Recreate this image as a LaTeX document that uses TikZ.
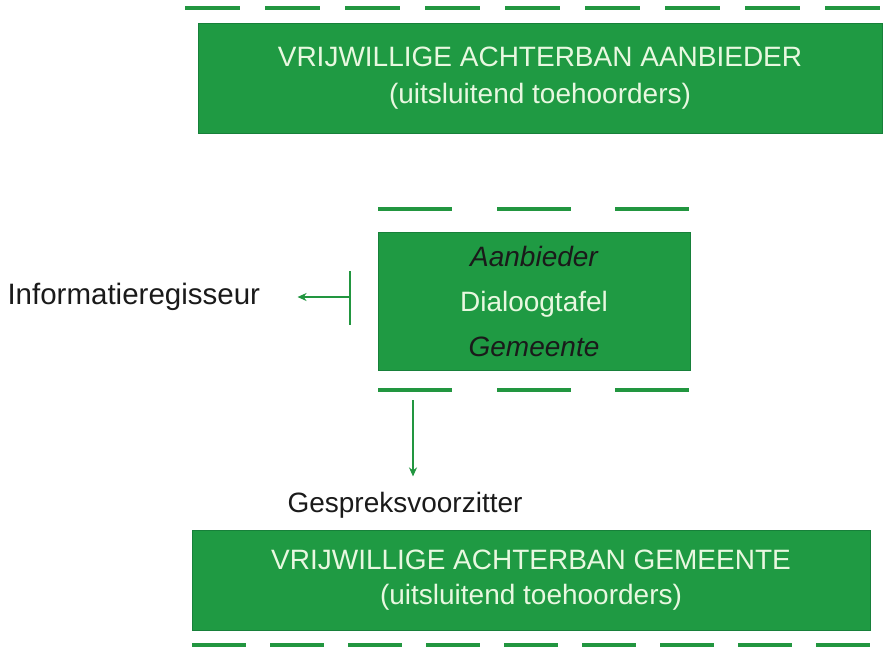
\documentclass[tikz,border=0pt]{standalone}
\usepackage{fontspec}
\setmainfont{Liberation Sans}
\usepackage{xcolor}
\usepackage{tikz}
\usetikzlibrary{
  arrows.meta,
  positioning,
  calc
}
\definecolor{boxgreen}{HTML}{1F9A43}
\definecolor{boxedge}{HTML}{17803A}
\definecolor{dashgreen}{HTML}{229640}
\definecolor{boxtext}{HTML}{E8F8E0}
\definecolor{labeltext}{HTML}{1A1A1A}

\begin{document}
\begin{tikzpicture}[x=1pt, y=-1pt,
  bigbox/.style={draw=boxedge, fill=boxgreen, line width=1pt,
                 text=boxtext, align=center, inner sep=0pt,
                 font=\fontsize{28}{37}\selectfont},
  tablebox/.style={draw=boxedge, fill=boxgreen, line width=1pt,
                   text=boxtext, align=center, inner sep=0pt,
                   minimum width=312pt, minimum height=138pt,
                   font=\fontsize{28}{45}\selectfont},
  dashline/.style={dashgreen, line width=4pt},
  arrow/.style={-{Stealth[length=9pt, width=8pt]}, dashgreen, line width=1.5pt},
  lbl/.style={text=labeltext, font=\fontsize{28}{34}\selectfont},
]
  \useasboundingbox (0,0) rectangle (883,646);

  % Top row
  \foreach \x in {185,265,...,825} {
    \draw[dashline] (\x,8) -- ++(55,0);
  }
  \node[bigbox, minimum width=684pt, minimum height=110pt] (topbox) at (540,78)
    {VRIJWILLIGE ACHTERBAN AANBIEDER\\(uitsluitend toehoorders)};

  % Dialogue table
  \foreach \x in {378,497,615} {
    \draw[dashline] (\x,209) -- ++(74,0);
    \draw[dashline] (\x,390) -- ++(74,0);
  }
  \node[tablebox] (table) at (534,301)
    {{\color{labeltext}\itshape Aanbieder}\\Dialoogtafel\\{\color{labeltext}\itshape Gemeente}};

  % Roles
  \node[lbl, anchor=west, font=\fontsize{29.5}{34}\selectfont] (info) at (4,297)
    {Informatieregisseur};
  \coordinate (bar) at (350,297);
  \draw[dashgreen, line width=2pt] (350,271) -- (350,325);
  \draw[arrow, shorten >=34pt] (bar) -- (info.east);

  \node[lbl] (chair) at (405,505) {Gespreksvoorzitter};
  \coordinate (drop) at (413,400);
  \draw[arrow, shorten >=12pt] (drop) -- (drop |- chair.north);

  % Bottom row
  \node[bigbox, minimum width=678pt, minimum height=100pt,
        font=\fontsize{28}{35}\selectfont] (botbox) at (531,580)
    {VRIJWILLIGE ACHTERBAN GEMEENTE\\(uitsluitend toehoorders)};
  \foreach \x in {192,270,...,816} {
    \draw[dashline] (\x,645) -- ++(54,0);
  }

\end{tikzpicture}
\end{document}
